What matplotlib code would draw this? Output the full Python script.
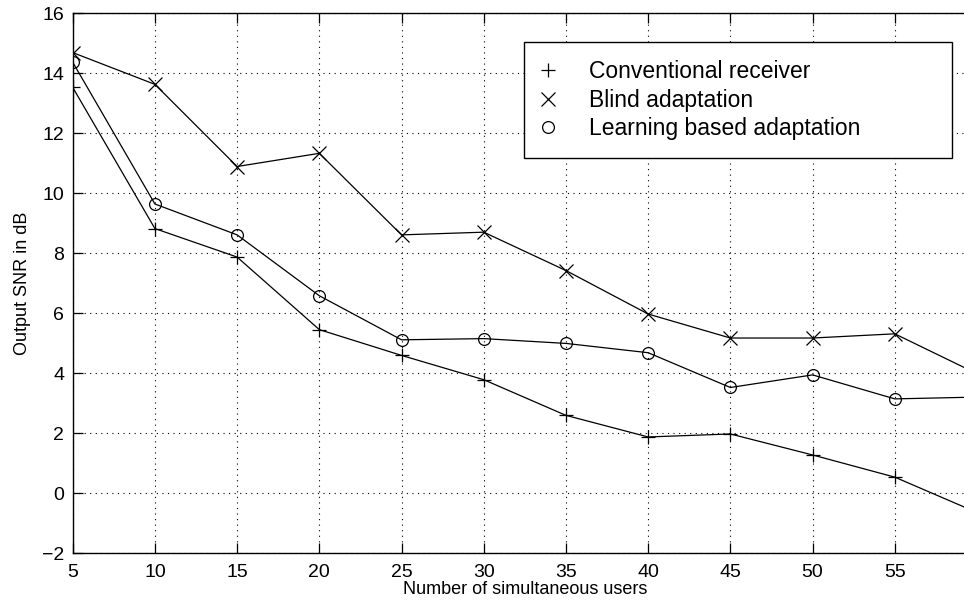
import matplotlib
matplotlib.use("Agg")
import matplotlib.pyplot as plt
from matplotlib.lines import Line2D

plt.rcParams['font.family'] = ['Liberation Sans', 'DejaVu Sans']

users = [5, 10, 15, 20, 25, 30, 35, 40, 45, 50, 55, 60]
conventional = [13.53, 8.82, 7.87, 5.45, 4.59, 3.78, 2.59, 1.87, 1.97, 1.27, 0.53, -0.65]
blind = [14.69, 13.63, 10.89, 11.33, 8.61, 8.70, 7.42, 5.97, 5.17, 5.17, 5.31, 3.98]
learning = [14.37, 9.64, 8.61, 6.58, 5.11, 5.15, 4.99, 4.68, 3.52, 3.94, 3.14, 3.20]

labels = ["Conventional receiver", "Blind adaptation", "Learning based adaptation"]
markers = ["+", "x", "o"]

W, H = 964, 603
fig = plt.figure(figsize=(W / 100, H / 100), dpi=100)
left, right, top, bottom = 72.7, 977.0, 13.3, 553.0
ax = fig.add_axes([left / W, 1 - bottom / H, (right - left) / W, (bottom - top) / H])

for series, m in zip([conventional, blind, learning], markers):
    ax.plot(users, series, color="black", linewidth=0.9, marker=m,
            markersize=10 if m != "o" else 8.5, markeredgewidth=0.9,
            markerfacecolor="none", markeredgecolor="black")

ax.set_xlim(5, 60)
ax.set_ylim(-2, 16)
ax.set_xticks([5, 10, 15, 20, 25, 30, 35, 40, 45, 50, 55])
ax.set_yticks(range(-2, 17, 2))
ax.tick_params(direction="in", length=7, width=0.9, top=True, right=True,
               labelsize=14, pad=6)
ax.tick_params(axis="x", pad=8)
for s in ax.spines.values():
    s.set_linewidth(1.0)

ax.grid(True, linestyle=(0, (1, 4)), color="black", linewidth=0.8)

ax.set_xlabel("Number of simultaneous users", fontsize=13, labelpad=0)
ax.set_ylabel("Output SNR in dB", fontsize=13, labelpad=8)

handles = [Line2D([], [], linestyle="None", marker=m, color="black",
                  markerfacecolor="none", markersize=10 if m != "o" else 8.5,
                  markeredgewidth=0.9) for m in markers]
leg = ax.legend(handles, labels, loc="upper left",
                bbox_to_anchor=(524 / W, 1 - 155.7 / H, (952 - 524) / W, (155.7 - 41.7) / H),
                bbox_transform=fig.transFigure, mode="expand",
                fontsize=16.5, frameon=True, fancybox=False, framealpha=1,
                edgecolor="black", borderpad=0.8, handlelength=0.5,
                handletextpad=1.54, labelspacing=0.24, borderaxespad=0)
leg.get_frame().set_linewidth(1.0)

fig.savefig("out.png", dpi=100)
